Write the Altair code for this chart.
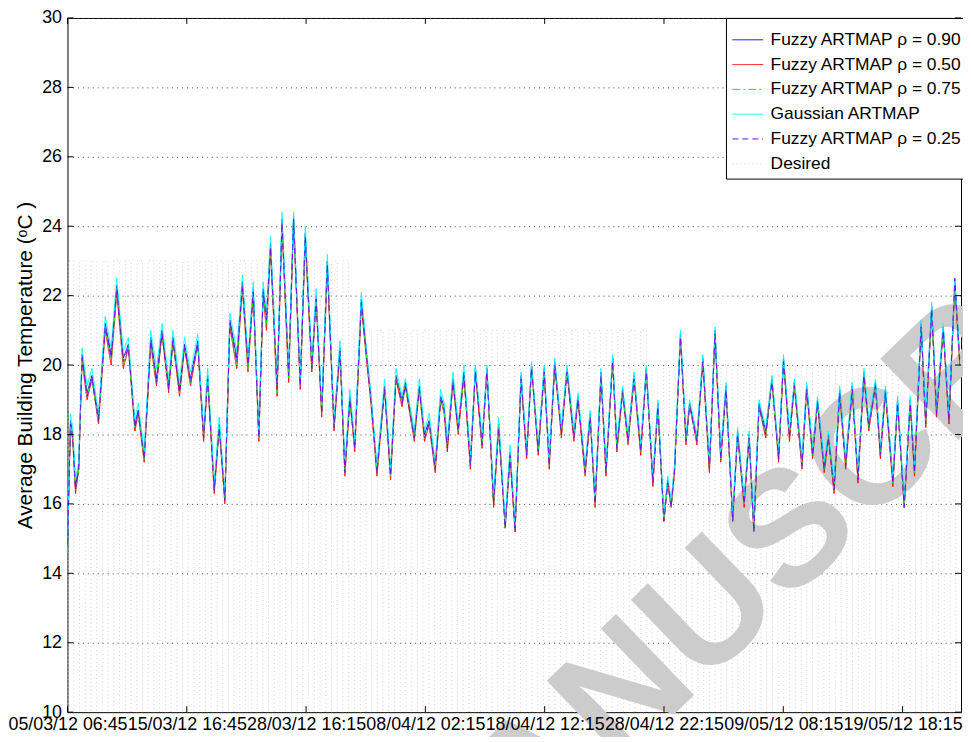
import altair as alt
import pandas as pd

# ---------------- data ----------------
series_names = ["Fuzzy ARTMAP ρ = 0.90", "Fuzzy ARTMAP ρ = 0.50", "Fuzzy ARTMAP ρ = 0.75",
                "Gaussian ARTMAP", "Fuzzy ARTMAP ρ = 0.25", "Desired"]
series_colors = ["#0000ff", "#ff0000", "#00ff00", "#00ffff", "#7f00ff", "#d0d0d0"]
series_dashes = [[1, 0], [1, 0], [8, 3, 2, 3], [1, 0], [6, 4], [1, 3]]

x_tick_values = [0, 1000, 2000, 3000, 4000, 5000, 6000, 7000]
x_tick_labels = ["05/03/12 06:45", "15/03/12 16:45", "28/03/12 16:15", "08/04/12 02:15",
                 "18/04/12 12:15", "28/04/12 22:15", "09/05/12 08:15", "19/05/12 18:15"]
y_tick_values = [10, 12, 14, 16, 18, 20, 22, 24, 26, 28, 30]

sample_idx = [
    0, 12, 25, 44, 67, 94, 122, 164, 205, 260,
    316, 366, 413, 468, 510, 565, 593, 643, 698, 746,
    792, 848, 884, 939, 981, 1031, 1092, 1141, 1175, 1230,
    1272, 1319, 1361, 1419, 1466, 1513, 1557, 1604, 1640, 1668,
    1702, 1757, 1798, 1854, 1895, 1951, 1993, 2048, 2084, 2131,
    2178, 2234, 2284, 2325, 2367, 2408, 2463, 2505, 2546, 2594,
    2658, 2708, 2754, 2804, 2832, 2907, 2949, 2993, 3032, 3082,
    3128, 3157, 3184, 3231, 3275, 3323, 3377, 3419, 3475, 3516,
    3572, 3614, 3669, 3710, 3752, 3802, 3849, 3890, 3946, 3996,
    4038, 4084, 4140, 4187, 4245, 4279, 4339, 4381, 4423, 4472,
    4514, 4570, 4605, 4653, 4699, 4749, 4805, 4852, 4907, 4949,
    4999, 5032, 5060, 5088, 5138, 5185, 5215, 5276, 5326, 5381,
    5428, 5476, 5520, 5576, 5617, 5672, 5714, 5753, 5797, 5853,
    5905, 5961, 6002, 6052, 6093, 6157, 6196, 6246, 6287, 6343,
    6379, 6426, 6473, 6523, 6578, 6626, 6676, 6717, 6773, 6814,
    6856, 6919, 6958, 7014, 7064, 7100, 7156, 7194, 7244, 7285,
    7341, 7389, 7438, 7479]

fuzzy_090 = [
    14.7, 16.6, 18.4, 18.0, 16.5, 17.1, 20.3, 19.2, 19.7, 18.5,
    21.2, 20.3, 22.3, 20.2, 20.6, 18.3, 18.7, 17.4, 20.8, 19.6,
    21.0, 19.4, 20.8, 19.3, 20.6, 19.6, 20.7, 18.0, 19.7, 16.5,
    18.3, 16.2, 21.3, 20.2, 22.4, 20.1, 22.2, 18.0, 22.2, 21.4,
    23.5, 19.4, 24.2, 19.8, 24.3, 19.5, 23.8, 20.0, 22.0, 18.7,
    23.0, 18.3, 20.5, 17.0, 19.1, 17.7, 21.9, 20.4, 19.0, 17.0,
    19.4, 16.9, 19.7, 19.0, 19.5, 18.0, 19.4, 18.0, 18.4, 17.1,
    19.1, 18.8, 17.7, 19.6, 18.2, 19.8, 17.2, 19.9, 17.8, 19.9,
    16.1, 18.3, 15.4, 17.5, 15.3, 19.7, 17.5, 20.0, 17.6, 19.9,
    17.2, 20.1, 18.1, 19.9, 18.0, 19.1, 17.0, 18.6, 16.1, 19.8,
    17.0, 20.2, 17.7, 19.3, 17.9, 19.7, 17.6, 19.9, 16.7, 18.9,
    15.6, 16.7, 16.0, 17.0, 20.9, 17.9, 18.9, 17.9, 20.2, 17.1,
    21.0, 17.4, 19.4, 15.6, 18.1, 16.1, 18.0, 15.3, 18.9, 18.1,
    19.6, 17.4, 20.2, 18.0, 19.5, 17.2, 19.4, 17.5, 19.0, 17.1,
    18.0, 16.5, 19.3, 17.2, 19.4, 16.8, 19.8, 18.3, 19.5, 17.5,
    19.3, 16.7, 19.0, 16.0, 19.0, 17.0, 21.2, 18.4, 21.7, 18.7,
    21.1, 18.5, 22.4, 20.2]

fuzzy_050 = [
    14.7, 16.5, 18.3, 17.8, 16.3, 17.0, 20.1, 19.0, 19.6, 18.3,
    21.0, 20.0, 22.1, 19.9, 20.5, 18.1, 18.6, 17.2, 20.6, 19.4,
    20.9, 19.2, 20.7, 19.1, 20.5, 19.4, 20.6, 17.8, 19.6, 16.3,
    18.2, 16.0, 21.1, 19.9, 22.2, 19.8, 22.1, 17.8, 22.0, 21.0,
    23.3, 19.1, 24.0, 19.5, 24.1, 19.3, 23.6, 19.8, 21.9, 18.5,
    22.8, 18.1, 20.4, 16.8, 19.0, 17.5, 21.7, 20.2, 18.8, 16.8,
    19.3, 16.7, 19.6, 18.8, 19.4, 17.8, 19.3, 17.8, 18.3, 16.9,
    19.0, 18.6, 17.5, 19.5, 18.0, 19.7, 17.0, 19.8, 17.6, 19.9,
    15.9, 18.2, 15.3, 17.3, 15.2, 19.6, 17.3, 20.0, 17.4, 19.8,
    17.0, 20.0, 17.9, 19.8, 17.8, 19.0, 16.8, 18.5, 15.9, 19.7,
    16.8, 20.2, 17.5, 19.2, 17.7, 19.6, 17.4, 19.9, 16.5, 18.8,
    15.5, 16.6, 15.9, 16.9, 20.8, 17.7, 18.9, 17.7, 20.1, 16.9,
    20.9, 17.2, 19.3, 15.5, 18.0, 15.9, 17.9, 15.2, 18.8, 17.9,
    19.6, 17.2, 20.1, 17.8, 19.4, 17.0, 19.3, 17.3, 18.9, 16.9,
    17.9, 16.3, 19.2, 17.0, 19.3, 16.6, 19.7, 18.1, 19.4, 17.3,
    19.2, 16.5, 18.9, 15.9, 18.9, 16.8, 21.1, 18.2, 21.6, 18.5,
    21.0, 18.3, 22.3, 20.0]

fuzzy_075 = [
    14.7, 16.6, 18.3, 17.9, 16.4, 17.0, 20.2, 19.1, 19.6, 18.4,
    21.1, 20.1, 22.2, 20.0, 20.5, 18.2, 18.6, 17.3, 20.7, 19.5,
    20.9, 19.3, 20.7, 19.2, 20.5, 19.5, 20.6, 17.9, 19.6, 16.4,
    18.2, 16.1, 21.2, 20.0, 22.3, 19.9, 22.1, 17.9, 22.1, 21.2,
    23.4, 19.2, 24.1, 19.6, 24.2, 19.4, 23.7, 19.9, 21.9, 18.6,
    22.9, 18.2, 20.4, 16.9, 19.0, 17.6, 21.8, 20.3, 18.9, 16.9,
    19.3, 16.8, 19.7, 18.9, 19.4, 17.9, 19.3, 17.9, 18.3, 17.0,
    19.0, 18.7, 17.6, 19.5, 18.1, 19.7, 17.1, 19.9, 17.7, 19.8,
    16.0, 18.3, 15.3, 17.4, 15.2, 19.6, 17.4, 19.9, 17.5, 19.8,
    17.1, 20.0, 18.0, 19.9, 17.9, 19.1, 16.9, 18.5, 16.0, 19.7,
    16.9, 20.1, 17.6, 19.2, 17.8, 19.6, 17.5, 19.8, 16.6, 18.8,
    15.5, 16.6, 15.9, 16.9, 20.8, 17.8, 18.8, 17.8, 20.1, 17.0,
    20.9, 17.3, 19.3, 15.5, 18.0, 16.0, 17.9, 15.2, 18.8, 18.0,
    19.5, 17.3, 20.1, 17.9, 19.4, 17.1, 19.3, 17.4, 18.9, 17.0,
    17.9, 16.4, 19.2, 17.1, 19.3, 16.7, 19.7, 18.2, 19.4, 17.4,
    19.2, 16.6, 18.9, 15.9, 18.9, 16.9, 21.1, 18.3, 21.6, 18.6,
    21.0, 18.4, 22.4, 20.1]

gaussian = [
    14.6, 16.8, 18.6, 18.2, 16.7, 17.2, 20.5, 19.4, 19.9, 18.6,
    21.4, 20.5, 22.5, 20.4, 20.8, 18.4, 18.9, 17.5, 21.0, 19.9,
    21.2, 19.6, 21.0, 19.5, 20.8, 19.8, 20.9, 18.1, 19.9, 16.6,
    18.5, 16.3, 21.5, 20.4, 22.6, 20.2, 22.4, 18.1, 22.4, 21.5,
    23.7, 19.5, 24.4, 19.9, 24.4, 19.6, 24.0, 20.1, 22.2, 18.8,
    23.2, 18.4, 20.7, 17.1, 19.3, 17.8, 22.1, 20.5, 19.1, 17.1,
    19.6, 17.0, 19.9, 19.1, 19.6, 18.1, 19.6, 18.1, 18.6, 17.2,
    19.3, 18.9, 17.8, 19.8, 18.3, 20.0, 17.3, 20.0, 17.9, 20.0,
    16.2, 18.5, 15.5, 17.7, 15.4, 19.8, 17.6, 20.1, 17.7, 20.0,
    17.3, 20.2, 18.2, 20.0, 18.1, 19.2, 17.1, 18.7, 16.2, 19.9,
    17.1, 20.3, 17.8, 19.4, 18.0, 19.8, 17.7, 20.0, 16.8, 19.0,
    15.7, 16.8, 16.1, 17.1, 21.0, 18.0, 19.0, 18.0, 20.3, 17.2,
    21.1, 17.5, 19.5, 15.7, 18.2, 16.2, 18.1, 15.4, 19.0, 18.2,
    19.7, 17.5, 20.3, 18.1, 19.6, 17.3, 19.5, 17.6, 19.1, 17.2,
    18.1, 16.6, 19.4, 17.3, 19.5, 16.9, 19.9, 18.4, 19.6, 17.6,
    19.4, 16.8, 19.1, 16.1, 19.1, 17.1, 21.3, 18.5, 21.8, 18.8,
    21.2, 18.6, 22.5, 20.3]

fuzzy_025 = [
    14.8, 16.5, 18.3, 17.9, 16.4, 17.0, 20.2, 19.1, 19.6, 18.4,
    21.1, 20.2, 22.2, 20.1, 20.5, 18.2, 18.6, 17.3, 20.7, 19.5,
    20.9, 19.3, 20.7, 19.2, 20.5, 19.5, 20.6, 17.9, 19.6, 16.4,
    18.2, 16.1, 21.2, 20.1, 22.3, 20.0, 22.1, 17.9, 22.1, 21.3,
    23.4, 19.3, 24.1, 19.7, 24.2, 19.4, 23.7, 19.9, 21.9, 18.6,
    22.9, 18.2, 20.4, 16.9, 19.0, 17.6, 21.8, 20.3, 18.9, 16.9,
    19.3, 16.8, 19.6, 18.9, 19.4, 17.9, 19.3, 17.9, 18.3, 17.0,
    19.0, 18.7, 17.6, 19.5, 18.1, 19.7, 17.1, 19.8, 17.7, 19.8,
    16.0, 18.2, 15.3, 17.4, 15.2, 19.6, 17.4, 19.9, 17.5, 19.8,
    17.1, 20.0, 18.0, 19.8, 17.9, 19.0, 16.9, 18.5, 16.0, 19.7,
    16.9, 20.1, 17.6, 19.2, 17.8, 19.6, 17.5, 19.8, 16.6, 18.8,
    15.5, 16.6, 15.9, 16.9, 20.8, 17.8, 18.8, 17.8, 20.1, 17.0,
    20.9, 17.3, 19.3, 15.5, 18.0, 16.0, 17.9, 15.2, 18.8, 18.0,
    19.5, 17.3, 20.1, 17.9, 19.4, 17.1, 19.3, 17.4, 18.9, 17.0,
    17.9, 16.4, 19.2, 17.1, 19.3, 16.7, 19.7, 18.2, 19.4, 17.4,
    19.2, 16.6, 18.9, 15.9, 18.9, 16.9, 21.1, 18.3, 21.6, 18.6,
    21.0, 18.4, 22.5, 20.1]

# Desired set-point: daily occupied level (one value per day of 96 samples)
desired_day_levels = [
    23.0, 23.0, 23.0, 23.0, 23.0, 23.0, 23.0, 23.0, 23.0, 23.0,
    23.0, 23.0, 23.0, 23.0, 23.0, 23.0, 23.0, 23.0, 23.0, 23.0,
    23.0, 23.0, 23.0, 23.0, 23.0, 21.0, 21.0, 21.0, 21.0, 21.0,
    21.0, 21.0, 21.0, 21.0, 21.0, 21.0, 21.0, 21.0, 21.0, 21.0,
    21.0, 21.0, 21.0, 21.0, 21.0, 21.0, 21.0, 21.0, 21.0, 21.0,
    21.0, 20.0, 20.0, 20.0, 20.0, 20.0, 20.0, 20.0, 20.0, 20.0,
    20.0, 20.0, 20.0, 20.0, 20.0, 20.0, 20.0, 20.0, 20.0, 20.0,
    20.0, 20.0, 20.0, 20.0, 20.0, 20.0, 20.0, 20.0]
desired_off_level = 5.0
samples_per_day = 96
occupied_start = 5
occupied_end = 53

watermark_head = "ACCEPTED MANUS"
watermark_tail = "CRIPT"

# ---------------- tables ----------------
rows = []
for name, vals in zip(series_names[:5], [fuzzy_090, fuzzy_050, fuzzy_075, gaussian, fuzzy_025]):
    for i, v in zip(sample_idx, vals):
        rows.append({"idx": i, "temp": v, "series": name})
for d, lvl in enumerate(desired_day_levels):
    s = d * samples_per_day
    for i, v in [(s, desired_off_level), (s + occupied_start, desired_off_level),
                 (s + occupied_start, lvl), (s + occupied_end, lvl),
                 (s + occupied_end, desired_off_level)]:
        rows.append({"idx": i, "temp": v, "series": "Desired"})
df = pd.DataFrame(rows)
df["order"] = range(len(df))

yt = pd.DataFrame({"temp": y_tick_values})
xt = pd.DataFrame({"idx": x_tick_values})

# ---------------- chart ----------------
W, H = 901, 700
FONT = "Liberation Sans"
x_scale = alt.Scale(domain=[0, 7490], nice=False, zero=False)
y_scale = alt.Scale(domain=[10, 30], nice=False, zero=False)
color_scale = alt.Scale(domain=series_names, range=series_colors)
dash_scale = alt.Scale(domain=series_names, range=series_dashes)

label_expr = "[" + ",".join("'" + s + "'" for s in x_tick_labels) + "][round(datum.value/1000)]"

legend = alt.Legend(title=None, orient="none", legendX=664, legendY=0,
                    fillColor="white", strokeColor="black", padding=6,
                    labelFont=FONT, labelFontSize=17.5, labelColor="black",
                    labelLimit=400, labelOffset=7, rowPadding=-8.2,
                    symbolType="stroke", symbolSize=961, symbolStrokeWidth=1)

x_axis = alt.Axis(values=x_tick_values, labelExpr=label_expr, labelFont=FONT,
                  labelFontSize=18, labelColor="black", labelPadding=3,
                  labelOverlap=False, labelFlush=False, ticks=False, grid=False,
                  domain=False, title=None, zindex=1)
y_axis = alt.Axis(values=y_tick_values, labelFont=FONT, labelFontSize=18,
                  labelColor="black", labelPadding=6, ticks=False, grid=True,
                  gridDash=[1, 4], gridColor="#444444", gridWidth=1, domain=False,
                  title="Average Building Temperature (ᵒC )", titleFont=FONT,
                  titleFontSize=21, titleFontWeight="normal", titleColor="black",
                  titlePadding=6)

base = alt.Chart(df).mark_line(strokeWidth=1, clip=True).encode(
    x=alt.X("idx:Q", scale=x_scale, axis=x_axis),
    y=alt.Y("temp:Q", scale=y_scale, axis=y_axis),
    color=alt.Color("series:N", scale=color_scale, legend=legend),
    strokeDash=alt.StrokeDash("series:N", scale=dash_scale, legend=legend),
    order="order:Q",
)

draw_order = ["Desired", "Fuzzy ARTMAP ρ = 0.90", "Fuzzy ARTMAP ρ = 0.50",
              "Fuzzy ARTMAP ρ = 0.75", "Gaussian ARTMAP", "Fuzzy ARTMAP ρ = 0.25"]
line_layers = [base.transform_filter(alt.datum.series == s) for s in draw_order]

wm_style = dict(font=FONT, fontWeight="bold", fontSize=165, color="#cccccc",
                angle=316, baseline="middle")
wm_head = alt.Chart(pd.DataFrame({"t": [watermark_head]})).mark_text(
    align="right", **wm_style).encode(text="t:N", x=alt.value(770), y=alt.value(480))
wm_tail = alt.Chart(pd.DataFrame({"t": [watermark_tail]})).mark_text(
    align="left", **wm_style).encode(text="t:N", x=alt.value(770), y=alt.value(480))

ytick_l = alt.Chart(yt).mark_rule(color="black", strokeWidth=1).encode(
    y=alt.Y("temp:Q", scale=y_scale), x=alt.value(0), x2=alt.value(6))
ytick_r = alt.Chart(yt).mark_rule(color="black", strokeWidth=1).encode(
    y=alt.Y("temp:Q", scale=y_scale), x=alt.value(W - 6), x2=alt.value(W))
xtick_b = alt.Chart(xt).mark_rule(color="black", strokeWidth=1).encode(
    x=alt.X("idx:Q", scale=x_scale), y=alt.value(H - 6), y2=alt.value(H))
xtick_t = alt.Chart(xt).mark_rule(color="black", strokeWidth=1).encode(
    x=alt.X("idx:Q", scale=x_scale), y=alt.value(0), y2=alt.value(6))

chart = alt.layer(wm_head, wm_tail, *line_layers, ytick_l, ytick_r, xtick_b, xtick_t).properties(
    width=W, height=H, autosize="none",
    padding={"left": 60, "top": 7, "right": 2, "bottom": 22},
    background="white",
).configure_view(stroke="black", strokeWidth=1)

chart.save("out.html", embed_options={"renderer": "svg", "actions": False})
